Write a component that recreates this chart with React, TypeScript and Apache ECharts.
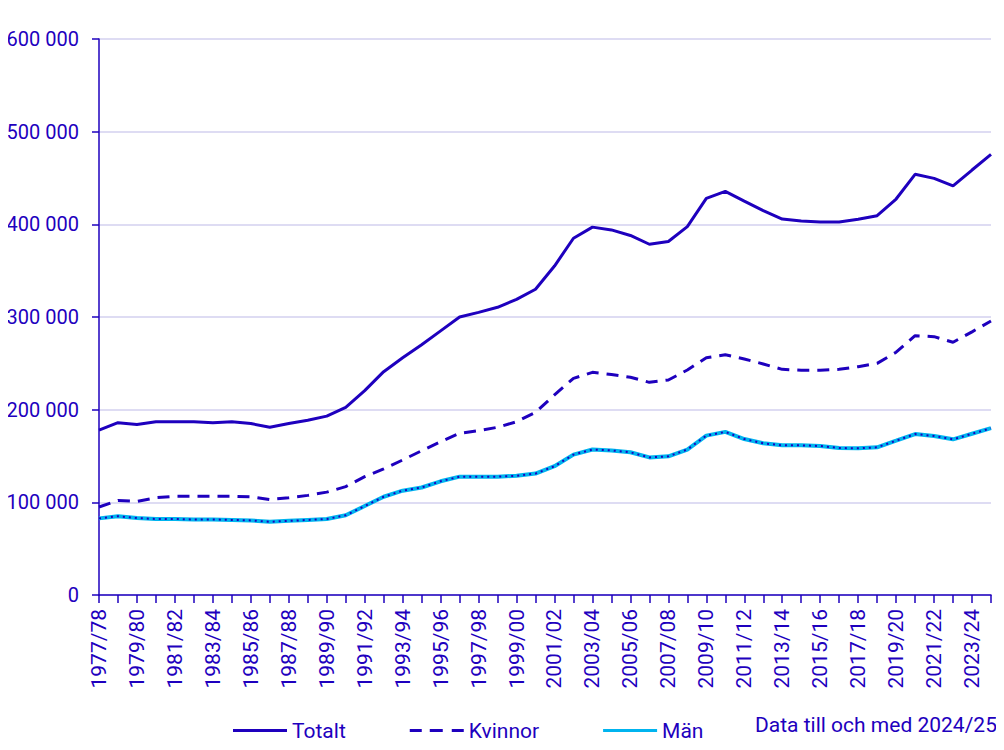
import React, { useEffect, useRef } from "react";
import * as echarts from "echarts";

const startYears: number[] = [];
for (let y = 1977; y <= 2024; y++) startYears.push(y);
const categories = startYears.map(
  (y) => `${y}/${String((y + 1) % 100).padStart(2, "0")}`
);

const totalt = [
  178000, 186000, 184000, 187000, 187000, 187000, 186000, 187000, 185000, 181000,
  185000, 188500, 193000, 202500, 220500, 241000, 256000, 270000, 285000, 300000,
  305000, 310500, 319000, 330000, 355000, 385000, 397000, 394000, 388000, 378500,
  381500, 397500, 428000, 435500, 425000, 414700, 405700, 403600, 402500, 402500,
  405400, 409300, 427300, 454000, 449600, 441400, 458600, 475500,
];

const kvinnor = [
  95000, 102000, 101000, 105000, 106500, 106500, 106500, 106500, 106000, 103000,
  105000, 107500, 111000, 117000, 127700, 136000, 145700, 155700, 165400, 174500,
  177300, 181000, 187000, 197000, 216000, 233800, 240300, 238000, 235000, 229500,
  232000, 242800, 256000, 259300, 254700, 249300, 243500, 242500, 242500, 243500,
  246400, 250000, 262000, 279800, 278800, 272700, 284000, 295700,
];

const man = [
  82700, 85000, 83000, 82000, 82000, 81500, 81500, 81000, 80500, 79000,
  80000, 81000, 82000, 86000, 96000, 106000, 112600, 116000, 122700, 127700,
  127700, 127700, 128700, 131000, 139000, 151500, 157000, 156000, 154000, 148500,
  149600, 157000, 172000, 176000, 168300, 163700, 161500, 161500, 160800, 158600,
  158300, 159400, 166500, 173700, 171600, 168000, 174000, 180000,
];

const yTicks = [0, 100000, 200000, 300000, 400000, 500000, 600000];
const noteText = "Data till och med 2024/25";

const DARK = "#1e00be";
const LIGHT = "#00b4ef";
const GRID = "#d3d1ef";
const FONT = "Roboto";
const FS = 21;

export default function App() {
  const ref = useRef<HTMLDivElement>(null);

  useEffect(() => {
    if (!ref.current) return;
    const chart = echarts.init(ref.current, undefined, { renderer: "svg" });
    const fmt = (v: number) =>
      String(Math.round(v)).replace(/\B(?=(\d{3})+(?!\d))/g, " ");

    chart.setOption({
      animation: false,
      textStyle: { fontFamily: FONT, color: DARK },
      grid: { left: 99, right: 13, top: 39, bottom: 155, containLabel: false },
      xAxis: {
        type: "category",
        data: categories,
        boundaryGap: false,
        axisLine: { show: true, lineStyle: { color: DARK, width: 1.5 } },
        axisTick: {
          show: true,
          interval: 0,
          length: 8,
          lineStyle: { color: DARK, width: 1.5 },
        },
        axisLabel: {
          interval: 1,
          rotate: 90,
          margin: 14,
          fontSize: FS,
          color: DARK,
          fontFamily: FONT,
        },
        splitLine: { show: false },
      },
      yAxis: {
        type: "value",
        min: yTicks[0],
        max: yTicks[yTicks.length - 1],
        interval: 100000,
        axisLine: { show: true, lineStyle: { color: DARK, width: 1.5 } },
        axisTick: {
          show: true,
          length: 7,
          lineStyle: { color: DARK, width: 1.5 },
        },
        axisLabel: {
          margin: 20,
          fontSize: 20,
          color: DARK,
          fontFamily: FONT,
          formatter: (v: number) => fmt(v),
        },
        splitLine: { show: true, lineStyle: { color: GRID, width: 1.5 } },
      },
      legend: {
        left: 228,
        top: 715,
        itemWidth: 54,
        itemHeight: 3,
        itemGap: 64,
        textStyle: { fontSize: FS, color: DARK, fontFamily: FONT },
        data: [
          { name: "Totalt", icon: "rect", itemStyle: { color: DARK } },
          {
            name: "Kvinnor",
            icon: "path://M0,0h12v3h-12z M20,0h13v3h-13z M42,0h12v3h-12z",
            itemStyle: { color: DARK },
          },
          { name: "Män", icon: "rect", itemStyle: { color: LIGHT } },
        ],
      },
      graphic: [
        {
          type: "text",
          left: 755,
          top: 714,
          style: {
            text: noteText,
            fontSize: FS,
            fill: DARK,
            fontFamily: FONT,
          },
        },
      ],
      series: [
        {
          name: "Totalt",
          type: "line",
          data: totalt,
          symbol: "none",
          lineStyle: { color: DARK, width: 3 },
          itemStyle: { color: DARK },
        },
        {
          name: "Kvinnor",
          type: "line",
          data: kvinnor,
          symbol: "none",
          lineStyle: { color: DARK, width: 3, type: [12, 8] },
          itemStyle: { color: DARK },
        },
        {
          name: "Män",
          type: "line",
          data: man,
          symbol: "none",
          lineStyle: { color: LIGHT, width: 4 },
          itemStyle: { color: LIGHT },
        },
        {
          name: "Män (prickad)",
          type: "line",
          data: man,
          symbol: "none",
          silent: true,
          lineStyle: { color: DARK, width: 2, type: [2, 4] },
          itemStyle: { color: DARK },
        },
      ],
    });

    return () => chart.dispose();
  }, []);

  return <div ref={ref} style={{ width: 1004, height: 750, margin: -8 }} />;
}
